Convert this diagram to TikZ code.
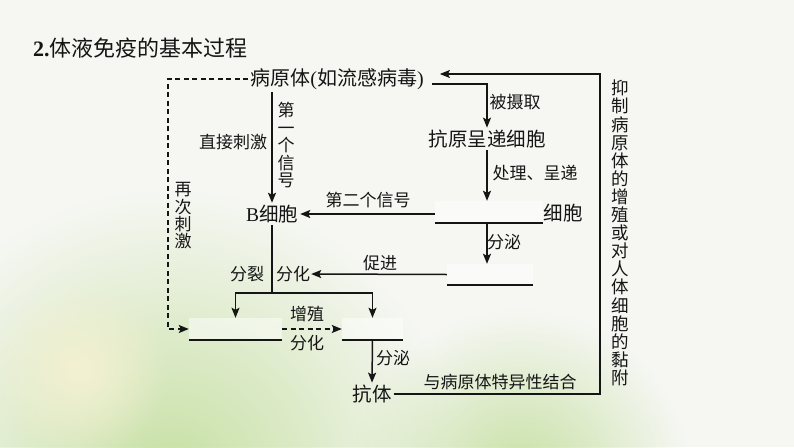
\documentclass[tikz,border=0pt]{standalone}
\usepackage{fontspec}
\setmainfont{Noto Sans CJK SC}
\newfontfamily\lat{Liberation Serif}
\usetikzlibrary{arrows.meta,fadings}
\definecolor{bg}{HTML}{F6F7F3}
\definecolor{ink}{HTML}{151515}
\definecolor{leaf}{HTML}{C6E0A2}
\definecolor{sun}{HTML}{F4F1D2}
\tikzfading[name=softout, inner color=transparent!0, outer color=transparent!100]
\begin{document}
\begin{tikzpicture}[x=1pt,y=-1pt,
  title/.style={inner sep=0pt, font=\fontsize{22}{22}\selectfont, text=ink},
  txt/.style={inner sep=2pt, font=\fontsize{19.5}{19.5}\selectfont, text=ink},
  lbl/.style={inner sep=1pt, font=\fontsize{17}{17}\selectfont, text=ink},
  vlbl/.style={inner sep=0pt, align=center, text=ink},
  ln/.style={line width=1.5pt, draw=ink},
  arr/.style={ln, -{Stealth[length=10pt,width=8pt,inset=2pt]}},
  dsh/.style={line width=1.4pt, draw=ink, dash pattern=on 5pt off 3.5pt},
  blank/.style={fill=white, fill opacity=0.5, draw=none, inner sep=0pt}]
\fill[bg] (0,0) rectangle (794,447);
\useasboundingbox (0,0) rectangle (794,447);
\begin{scope}
  \clip (0,0) rectangle (794,447);
  \fill[leaf, path fading=softout] (170,480) circle (290);
  \fill[leaf, path fading=softout] (520,480) circle (170);
  \fill[sun, path fading=softout] (80,370) circle (90);
\end{scope}

% title
\node[title, anchor=west] (title) at (33,48) {{\lat\bfseries 2.}体液免疫的基本过程};

% main nodes
\node[txt, font=\fontsize{20}{20}\selectfont] (patho) at (337,79) {病原体{\lat(}如流感病毒{\lat)}};
\node[txt] (apc) at (487,139) {抗原呈递细胞};
\node[txt] (B) at (272,214) {{\lat B}细胞};
\node[txt] (Tcell) at (563,213) {细胞};
\node[txt] (ab) at (372,394) {抗体};

% blanks
\node[blank, minimum width=108pt, minimum height=22pt] (Tb) at (489,212) {};
\node[blank, minimum width=86pt, minimum height=21pt] (Lb) at (490,274.5) {};
\node[blank, minimum width=93pt, minimum height=22pt] (Mb) at (235.5,329) {};
\node[blank, minimum width=61pt, minimum height=22pt] (Pb) at (372.5,329) {};
\draw[ln] (Tb.south west) -- (Tb.south east);
\draw[ln] (Lb.south west) -- (Lb.south east);
\draw[ln] (Mb.south west) -- (Mb.south east);
\draw[ln] (Pb.south west) -- (Pb.south east);

% labels
\node[lbl] (l1) at (233,142) {直接刺激};
\node[vlbl, font=\fontsize{17}{17.5}\selectfont] (l2) at (286,145) {第\\一\\个\\信\\号};
\node[vlbl, font=\fontsize{17}{17.3}\selectfont] (l3) at (183,216) {再\\次\\刺\\激};
\node[lbl] (l4) at (515,102) {被摄取};
\node[lbl] (l5) at (535,173) {处理、呈递};
\node[lbl] (l6) at (368,200) {第二个信号};
\node[lbl] (l7) at (504,242) {分泌};
\node[lbl] (l8) at (380,263) {促进};
\node[lbl] (l9) at (247,274) {分裂};
\node[lbl] (fenhua) at (293,274) {分化};
\node[lbl] (l10) at (307,314) {增殖};
\node[lbl] (l11) at (307,343) {分化};
\node[lbl] (l12) at (393,358) {分泌};
\node[lbl] (l13) at (500,382) {与病原体特异性结合};
\node[vlbl, font=\fontsize{17.5}{18.1}\selectfont] (l14) at (620,233)
  {抑\\制\\病\\原\\体\\的\\增\\殖\\或\\对\\人\\体\\细\\胞\\的\\黏\\附};

% connectors
\coordinate (dc) at (168,79);
\coordinate (rc) at (600,74);
\coordinate (sp) at (272,293);
\draw[dsh, -{Stealth[length=10pt,width=8pt,inset=2pt]}] (patho.west) -- (dc) -- (dc |- Mb.west) -- (Mb.west);
\draw[arr] (patho.south -| B.north) -- (B.north);
\draw[arr] ([xshift=6pt,yshift=-5pt]patho.east) -| (apc.north);
\draw[arr] (ab.east) -| (rc) -- ([xshift=14pt,yshift=5pt]patho.east);
\draw[arr] (apc.south) -- (Tb.north -| apc.south);
\draw[arr] (Tb.west |- B.east) -- (B.east);
\draw[arr] (Tb.south -| apc.south) -- (Lb.north -| apc.south);
\draw[arr] (Lb.west) -- (fenhua.east);
\draw[ln] (B.south) -- (sp);
\draw[arr] (sp) -| (Mb.north);
\draw[arr] (sp) -| (Pb.north);
\draw[dsh, -{Stealth[length=10pt,width=8pt,inset=2pt]}] (Mb.east) -- (Pb.west);
\draw[arr] (Pb.south) -- (ab.north);
\end{tikzpicture}
\end{document}
